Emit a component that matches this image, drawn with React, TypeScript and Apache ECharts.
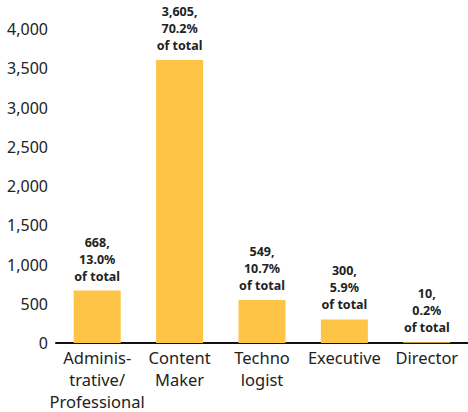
import React, { useEffect, useRef } from "react";
import * as echarts from "echarts";

const categories = ["Adminis-\ntrative/\nProfessional", "Content\nMaker", "Techno\nlogist", "Executive", "Director"];
const values = [668, 3605, 549, 300, 10];
const shares = ["13.0%", "70.2%", "10.7%", "5.9%", "0.2%"];
const yTicks = { min: 0, max: 4000, interval: 500 };

const FONT = "'Noto Sans', sans-serif";

export default function App() {
  const ref = useRef<HTMLDivElement>(null);
  useEffect(() => {
    if (!ref.current) return;
    const chart = echarts.init(ref.current, undefined, { renderer: "svg" });
    chart.setOption({
      animation: false,
      grid: { left: 56, right: 0, top: 29, bottom: 63, containLabel: false },
      xAxis: {
        type: "category",
        data: categories,
        axisLine: { show: true, lineStyle: { color: "#111", width: 2 } },
        axisTick: { show: false },
        axisLabel: {
          color: "#222",
          fontSize: 16.5,
          fontFamily: FONT,
          lineHeight: 22,
          margin: 3,
          interval: 0,
        },
      },
      yAxis: {
        type: "value",
        min: yTicks.min,
        max: yTicks.max,
        interval: yTicks.interval,
        axisLine: { show: false },
        axisTick: { show: false },
        splitLine: { show: false },
        axisLabel: {
          color: "#222",
          fontSize: 16,
          fontFamily: FONT,
          margin: 8,
          formatter: (v: number) => v.toLocaleString("en-US"),
        },
      },
      series: [
        {
          type: "bar",
          data: values,
          barWidth: 47,
          itemStyle: { color: "#FDC446" },
          label: {
            show: true,
            position: "top",
            distance: 6,
            color: "#222",
            fontSize: 12.5,
            fontWeight: "bold",
            fontFamily: FONT,
            lineHeight: 17,
            align: "center",
            formatter: (p: any) =>
              `${values[p.dataIndex].toLocaleString("en-US")},\n${shares[p.dataIndex]}\nof total`,
          },
        },
      ],
    });
    return () => chart.dispose();
  }, []);
  return (
    <div
      ref={ref}
      style={{ position: "fixed", left: 0, top: 0, width: 468, height: 412, background: "#fff" }}
    />
  );
}
